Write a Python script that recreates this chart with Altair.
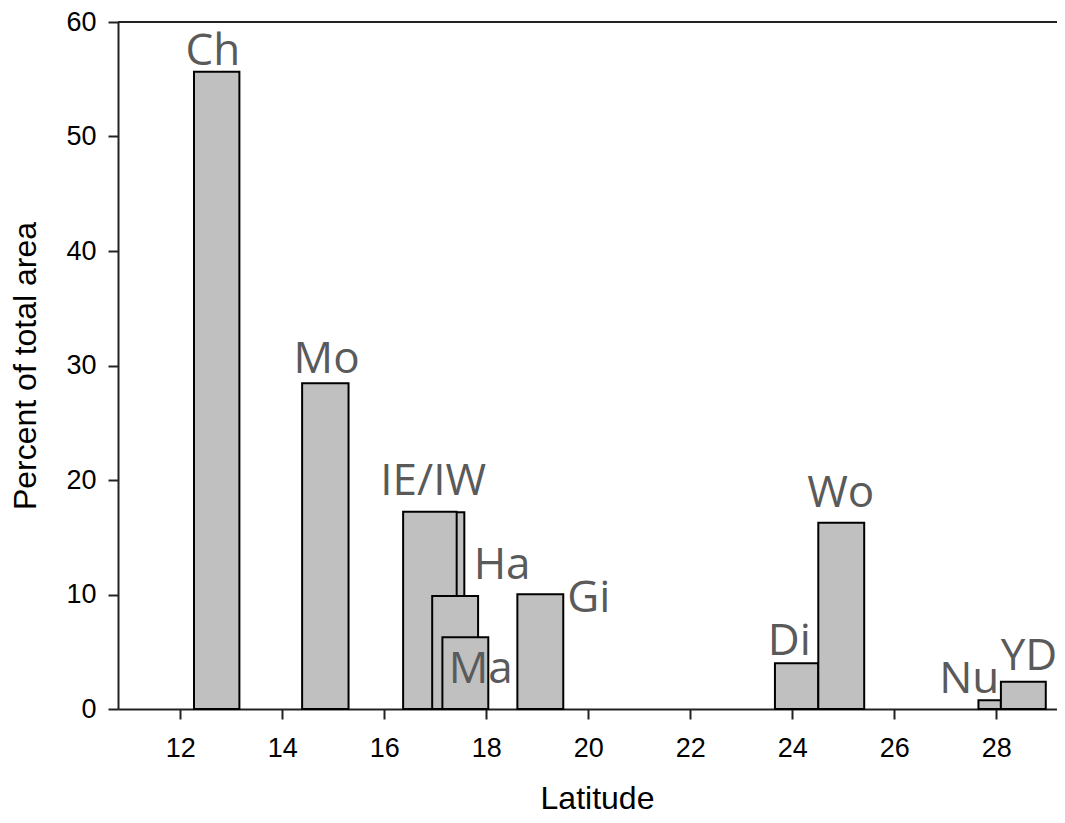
import altair as alt
import pandas as pd

# Bars (drawn in this order; later ones overlay earlier ones)
bar_names = ["Ch", "Mo", "IW", "IE", "Ha", "Ma", "Gi", "Di", "Wo", "Nu", "YD"]
lat_start = [12.27, 14.39, 16.42, 16.37, 16.94, 17.14, 18.61, 23.66, 24.51, 27.65, 28.09]
lat_end = [13.16, 15.30, 17.57, 17.42, 17.84, 18.04, 19.51, 24.51, 25.41, 28.09, 28.97]
pct_area = [55.66, 28.44, 17.18, 17.23, 9.87, 6.26, 10.02, 3.99, 16.27, 0.76, 2.38]

# Labels
label_text = ["Ch", "Mo", "IE/IW", "Ha", "Ma", "Gi", "Di", "Wo", "Nu", "YD"]
label_lat = [12.64, 14.87, 16.96, 18.31, 17.89, 20.01, 23.94, 24.95, 27.47, 28.64]
label_pct = [56.24, 29.37, 18.69, 11.35, 2.27, 8.50, 4.72, 17.67, 1.40, 3.41]

x_ticks = [12, 14, 16, 18, 20, 22, 24, 26, 28]
y_ticks = [0, 10, 20, 30, 40, 50, 60]

bars_df = pd.DataFrame({"name": bar_names, "x0": lat_start, "x1": lat_end, "y": pct_area,
                        "order": list(range(len(bar_names)))})
labels_df = pd.DataFrame({"text": label_text, "x": label_lat, "y": label_pct})
top_df = pd.DataFrame({"y": [60]})

W, H = 939, 687

x_scale = alt.Scale(domain=[10.78, 29.19], nice=False, zero=False)
y_scale = alt.Scale(domain=[0, 60], nice=False)

x_axis = alt.Axis(values=x_ticks, title="Latitude", titleX=479, titleY=99,
                  titleBaseline="alphabetic", titleAlign="center",
                  labelPadding=16, format="d")
y_axis = alt.Axis(values=y_ticks, title="Percent of total area", titleAngle=270,
                  titleX=-83, titleY=H / 2, titleBaseline="alphabetic",
                  titleAlign="center", labelPadding=12, format="d")

bars = alt.Chart(bars_df).mark_rect(
    fill="#c0c0c0", stroke="#000000", strokeWidth=2
).encode(
    x=alt.X("x0:Q", scale=x_scale, axis=x_axis),
    x2="x1:Q",
    y=alt.Y("y:Q", scale=y_scale, axis=y_axis),
    y2=alt.datum(0),
    order=alt.Order("order:Q"),
)

labels = alt.Chart(labels_df).mark_text(
    font="Open Sans", fontSize=44, color="#5a5a5a", align="center", baseline="alphabetic"
).encode(
    x=alt.X("x:Q", scale=x_scale),
    y=alt.Y("y:Q", scale=y_scale),
    text="text:N",
)

top_rule = alt.Chart(top_df).mark_rule(color="#222222", strokeWidth=2).encode(
    y=alt.Y("y:Q", scale=y_scale)
)

chart = alt.layer(bars, labels, top_rule).properties(
    width=W, height=H,
    autosize=alt.AutoSizeParams(type="none"),
    padding={"left": 110, "top": 14, "right": 0, "bottom": 106},
).configure_view(stroke=None).configure_axis(
    grid=False,
    domainColor="#222222", domainWidth=2,
    tickColor="#222222", tickWidth=2, tickSize=10,
    labelFont="Liberation Sans", labelFontSize=27, labelColor="#000000",
    titleFont="Liberation Sans", titleFontSize=32, titleColor="#000000",
    titleFontWeight="normal",
)

chart.save("out.html", embed_options={"renderer": "svg", "actions": False})
